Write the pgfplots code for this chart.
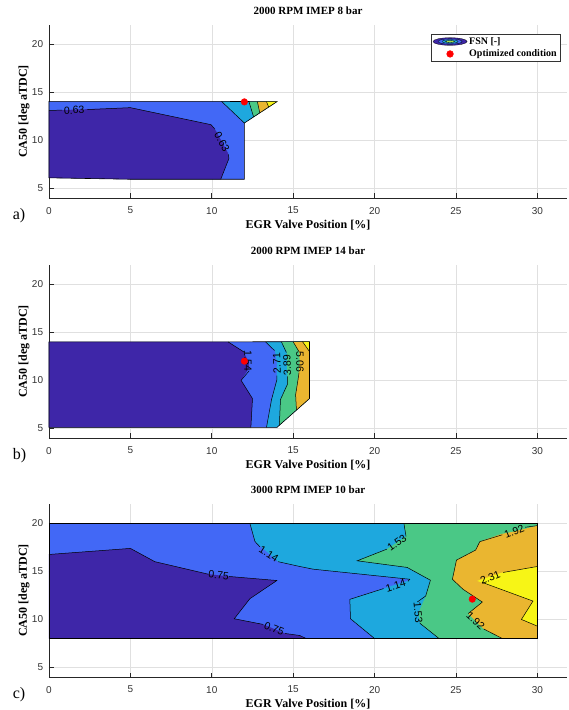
\documentclass[border=0pt]{standalone}
\usepackage{fontspec}
\setmainfont{Liberation Serif}
\newfontfamily\hel{Liberation Sans}
\usepackage{pgfplots}
\pgfplotsset{compat=1.18}

\definecolor{cPur}{RGB}{62,38,168}
\definecolor{cBlu}{RGB}{66,104,246}
\definecolor{cCya}{RGB}{30,168,222}
\definecolor{cGre}{RGB}{74,200,134}
\definecolor{cOra}{RGB}{234,182,48}
\definecolor{cYel}{RGB}{247,245,22}

\tikzset{lab/.style={font=\hel\fontsize{10.5}{12}\selectfont, inner sep=0pt}}
\pgfplotsset{
  panel/.style={
    scale only axis, width=518pt, height=173pt, anchor=south west,
    xmin=0, xmax=31.82, ymin=4, ymax=22,
    xtick={0,5,...,30}, ytick={5,10,15,20},
    axis x line*=bottom, axis y line*=left,
    axis line style={black!85, line width=0.6pt, -},
    tick align=inside, major tick length=4.5pt,
    tick style={black!85, line width=0.6pt},
    grid=major, major grid style={black!12, line width=0.5pt},
    clip=false,
    /pgf/number format/assume math mode=true,
    tick label style={font=\hel\fontsize{10}{12}\selectfont, text=black!80},
    xticklabel style={yshift=-5.5pt},
    yticklabel style={xshift=-2.4pt},
    xlabel={EGR Valve Position [\%]}, ylabel={CA50 [deg aTDC]},
    label style={font=\bfseries\fontsize{12}{14}\selectfont},
    xlabel style={at={(axis description cs:0.5,0)}, anchor=base, yshift=-30.8pt},
    ylabel style={at={(axis description cs:-0.0425,0.5)}, anchor=base},
    title style={font=\bfseries\fontsize{11}{13}\selectfont, at={(axis description cs:0.5,1)}, anchor=base, yshift=4.5pt},
  },
  reg/.style={fill=#1, draw=none, forget plot},
  cl/.style={black, line width=0.5pt, forget plot},
  ob/.style={black, line width=0.6pt, forget plot},
  dot/.style={only marks, mark=*, mark size=3.3pt, color=red, mark options={draw=red, fill=red}},
  dotlegend/.style={legend image code/.code={\draw[mark repeat=2,mark phase=2,##1] plot coordinates {(0pt,0pt)(17pt,0pt)(34pt,0pt)};}},
}

\begin{document}
\begin{tikzpicture}
\useasboundingbox (0,0) rectangle (568pt,710pt);

% ---------------- a) ----------------
\begin{axis}[panel, at={(49pt,512pt)}, title={2000 RPM IMEP 8 bar},
  legend cell align=left,
  legend style={at={(axis description cs:1,1)}, anchor=north east, xshift=-6pt, yshift=-9pt,
    draw=black!80, line width=0.6pt, font=\bfseries\fontsize{10}{11}\selectfont,
    inner xsep=2pt, inner ysep=1pt, row sep=0pt}]
\addlegendimage{legend image code/.code={
  \draw[black, fill=cPur, line width=0.3pt] (17pt,0) ellipse (17pt and 3.8pt);
  \draw[black, fill=cBlu, line width=0.3pt] (17pt,0) ellipse (12pt and 2.7pt);
  \draw[black, fill=cCya, line width=0.3pt] (17pt,0) ellipse (8pt and 1.8pt);
  \draw[black, fill=cGre!50!cYel, line width=0.3pt] (17pt,0) ellipse (4.5pt and 1pt);}}
\addlegendentry{FSN [-]}
\addplot[reg=cBlu] coordinates {(0,6.1)(5,5.95)(12,5.95)(12,11.8)(14,14.02)(10.6,14.05)(5,14.05)(0,14.05)} -- cycle;
\addplot[reg=cPur] coordinates {(0,6.1)(0,13.1)(5,13.4)(9.95,11.63)(10.25,11.0)(11.0,8.67)(11.05,8.1)(10.55,5.95)(5,5.95)} -- cycle;
\addplot[reg=cCya] coordinates {(10.6,14.05)(12,11.8)(14,14.02)} -- cycle;
\addplot[reg=cGre] coordinates {(12.28,14.03)(12.57,12.43)(14,14.02)} -- cycle;
\addplot[reg=cOra] coordinates {(12.8,14.03)(12.95,12.85)(14,14.02)} -- cycle;
\addplot[reg=cYel] coordinates {(13.36,14.02)(13.5,13.45)(14,14.02)} -- cycle;
\addplot[ob] coordinates {(0,6.1)(5,5.95)(12,5.95)(12,11.8)(14,14.02)(10.6,14.05)(5,14.05)(0,14.05)} -- cycle;
\addplot[cl] coordinates {(0,13.1)(0.8,13.15)};
\addplot[cl] coordinates {(2.35,13.2)(5,13.4)(9.95,11.63)(10.2,11.15)};
\addplot[cl] coordinates {(11.02,8.55)(11.05,8.1)(10.55,5.95)};
\addplot[cl] coordinates {(10.6,14.05)(12,11.8)};
\addplot[cl] coordinates {(12.28,14.03)(12.57,12.43)};
\addplot[cl] coordinates {(12.8,14.03)(12.95,12.85)};
\addplot[cl] coordinates {(13.36,14.02)(13.5,13.45)};
\node[lab, rotate=2] at (axis cs:1.55,13.13) {0.63};
\node[lab, rotate=-61] at (axis cs:10.62,9.85) {0.63};
\addplot[dot, dotlegend] coordinates {(12,14)};
\addlegendentry{Optimized condition}
\node[font=\fontsize{16}{18}\selectfont, anchor=base west] at (axis description cs:-0.0766,-0.1243) {a)};
\end{axis}

% ---------------- b) ----------------
\begin{axis}[panel, at={(49pt,272pt)}, title={2000 RPM IMEP 14 bar}]
\addplot[reg=cBlu] coordinates {(0,5.1)(14,5.1)(16,8.1)(16,14.03)(11,14)(0,14)} -- cycle;
\addplot[reg=cPur] coordinates {(0,5.1)(0,14)(11,14)(11.93,13.0)(12.25,12.0)(12.3,11.3)(11.8,10.0)(12.5,8.1)(12.4,5.1)} -- cycle;
\addplot[reg=cCya] coordinates {(13.3,14)(16,14.03)(16,8.1)(14,5.1)(13.36,5.1)(13.67,8.0)(14.0,10.07)(14.0,11.8)(13.87,13.15)} -- cycle;
\addplot[reg=cGre] coordinates {(14.28,14)(16,14.03)(16,8.1)(14.15,5.33)(14.22,8.0)(14.65,9.6)(14.63,11.6)(14.6,13.0)} -- cycle;
\addplot[reg=cOra] coordinates {(15.0,14)(16,14.03)(16,8.1)(15.2,6.9)(15.15,8.5)(15.3,10.1)(15.4,11.9)(15.37,12.95)} -- cycle;
\addplot[reg=cYel] coordinates {(15.57,14.03)(16,14.03)(16,13)} -- cycle;
\addplot[ob] coordinates {(0,5.1)(14,5.1)(16,8.1)(16,14.03)(11,14)(0,14)} -- cycle;
\addplot[cl] coordinates {(11,14)(11.93,13.0)(12.0,12.9)};
\addplot[cl] coordinates {(12.3,11.0)(11.8,10.0)(12.5,8.1)(12.4,5.1)};
\addplot[cl] coordinates {(13.3,14)(13.85,13.1)};
\addplot[cl] coordinates {(14.0,10.5)(14.0,10.07)(13.67,8.0)(13.36,5.1)};
\addplot[cl] coordinates {(14.28,14)(14.58,12.9)};
\addplot[cl] coordinates {(14.64,10.4)(14.65,9.6)(14.22,8.0)(14.15,5.33)};
\addplot[cl] coordinates {(15.0,14)(15.37,12.95)};
\addplot[cl] coordinates {(15.36,10.8)(15.3,10.1)(15.15,8.5)(15.2,6.9)};
\addplot[cl] coordinates {(15.57,14.03)(16,13)};
\node[lab, rotate=-90] at (axis cs:12.22,12.0) {1.54};
\node[lab, rotate=92] at (axis cs:14.0,11.8) {2.71};
\node[lab, rotate=92] at (axis cs:14.63,11.6) {3.89};
\node[lab, rotate=-90] at (axis cs:15.42,11.9) {5.06};
\addplot[dot] coordinates {(12,12)};
\node[font=\fontsize{16}{18}\selectfont, anchor=base west] at (axis description cs:-0.0766,-0.1243) {b)};
\end{axis}

% ---------------- c) ----------------
\begin{axis}[panel, at={(49pt,33pt)}, title={3000 RPM IMEP 10 bar}]
\addplot[reg=cBlu] coordinates {(0,8)(30,8)(30,20)(0,20)} -- cycle;
\addplot[reg=cPur] coordinates {(0,8)(0,16.75)(5,17.38)(6.5,16.0)(9.78,14.7)(11.07,14.46)(14,14.04)(12.34,12.15)(11.38,10.06)(13.16,9.47)(14.5,8.53)(15.4,8.32)(15.8,8)} -- cycle;
\addplot[reg=cCya] coordinates {(12.34,20)(12.65,18.1)(14.07,16.0)(15.4,15.5)(16.22,15.22)(22.16,14.17)(22.0,14.0)(20.55,13.2)(18.48,12.08)(18.52,10.06)(20.0,8)(30,8)(30,20)} -- cycle;
\addplot[reg=cGre] coordinates {(21.8,20)(21.93,18.64)(20.75,17.3)(18.93,16.09)(22.0,15.4)(23.43,14.07)(23.14,12.43)(22.7,10.7)(22.8,9.57)(23.96,8)(30,8)(30,20)} -- cycle;
\addplot[reg=cOra] coordinates {(30,19.75)(28.58,19.14)(27.79,18.88)(26.46,18.08)(26.21,17.21)(25.03,16.16)(24.78,14.17)(25.43,13.13)(26.62,11.8)(25.75,10.6)(26.7,9.0)(27.85,8)(30,8)} -- cycle;
\addplot[reg=cYel] coordinates {(30,15.5)(27.85,14.87)(26.3,14.0)(29.73,11.9)(29.02,9.99)(30,9.29)} -- cycle;
\addplot[ob] coordinates {(0,8)(30,8)(30,20)(0,20)} -- cycle;
\addplot[cl] coordinates {(0,16.75)(5,17.38)(6.5,16.0)(9.78,14.7)};
\addplot[cl] coordinates {(11.07,14.46)(14,14.04)(12.34,12.15)(11.38,10.06)(13.16,9.47)};
\addplot[cl] coordinates {(14.5,8.53)(15.4,8.32)(15.8,8)};
\addplot[cl] coordinates {(12.34,20)(12.65,18.1)(12.95,17.55)};
\addplot[cl] coordinates {(14.07,16.0)(15.4,15.5)(16.22,15.22)(22.16,14.17)(22.05,13.95)};
\addplot[cl] coordinates {(20.55,13.2)(18.48,12.08)(18.52,10.06)(20.0,8)};
\addplot[cl] coordinates {(21.8,20)(21.93,18.64)};
\addplot[cl] coordinates {(20.75,17.3)(18.93,16.09)(22.0,15.4)(23.43,14.07)(23.14,12.43)(22.62,11.8)};
\addplot[cl] coordinates {(22.78,9.64)(22.8,9.57)(23.96,8)};
\addplot[cl] coordinates {(30,19.75)(29.25,19.58)};
\addplot[cl] coordinates {(27.85,18.8)(26.46,18.08)(26.21,17.21)(25.03,16.16)(24.78,14.17)(25.43,13.13)(26.62,11.8)(25.75,10.6)};
\addplot[cl] coordinates {(26.7,9.0)(27.85,8)};
\addplot[cl] coordinates {(30,15.5)(27.9,14.88)};
\addplot[cl] coordinates {(26.6,13.85)(29.73,11.9)(29.02,9.99)(30,9.29)};
\node[lab, rotate=-6] at (axis cs:10.42,14.6) {0.75};
\node[lab, rotate=-22] at (axis cs:13.83,9.0) {0.75};
\node[lab, rotate=-32] at (axis cs:13.5,16.8) {1.14};
\node[lab, rotate=17] at (axis cs:21.3,13.5) {1.14};
\node[lab, rotate=36] at (axis cs:21.37,17.95) {1.53};
\node[lab, rotate=-85] at (axis cs:22.68,10.7) {1.53};
\node[lab, rotate=22] at (axis cs:28.58,19.14) {1.92};
\node[lab, rotate=-43] at (axis cs:26.2,9.8) {1.92};
\node[lab, rotate=22] at (axis cs:27.1,14.35) {2.31};
\addplot[dot] coordinates {(26,12.1)};
\node[font=\fontsize{16}{18}\selectfont, anchor=base west] at (axis description cs:-0.0766,-0.1243) {c)};
\end{axis}
\end{tikzpicture}
\end{document}
